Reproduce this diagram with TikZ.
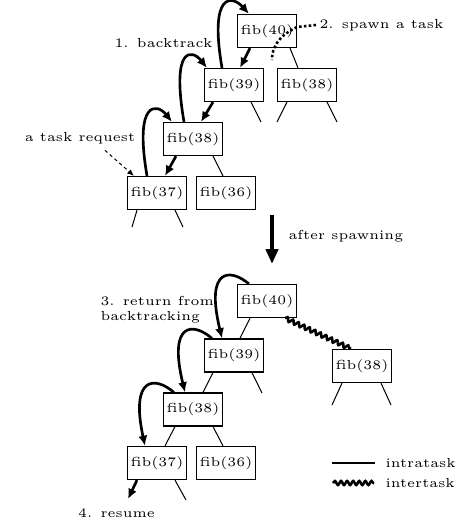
\documentclass[tikz,border=0pt]{standalone}
\usetikzlibrary{arrows.meta,calc,decorations.pathmorphing}
\newcommand{\fibfont}{\fontsize{5.15pt}{5.8pt}\selectfont}
\begin{document}
\begin{tikzpicture}[x=0.394pt,y=-0.394pt,
  fb/.style={draw,line width=0.5pt,minimum width=23.2pt,minimum height=13pt,inner sep=0pt,font=\fibfont},
  lbl/.style={font=\fibfont,inner sep=0pt},
  intra/.style={line width=0.4pt},
  bt/.style={line width=1.05pt,-{Latex[length=4pt,width=3.6pt]}},
  inter/.style={line width=1pt,decorate,decoration={snake,amplitude=0.8pt,segment length=2.4pt}},
  spawn/.style={line width=1pt,dash pattern=on 1pt off 0.9pt},
  req/.style={line width=0.4pt,dash pattern=on 1.3pt off 1.2pt,-{Latex[length=2.6pt,width=2.2pt]}},
  big/.style={line width=1.6pt,-{Triangle[length=5.9pt,width=4.8pt]}},
]
\useasboundingbox (0,0) rectangle (457,519);

% ---------- top tree ----------
\node[fb] (a40) at (267,31) {fib(40)};
\node[fb] (a39) at (234,85) {fib(39)};
\node[fb] (b38) at (307,85) {fib(38)};
\node[fb] (a38) at (193,139) {fib(38)};
\node[fb] (a37) at (157,193) {fib(37)};
\node[fb] (a36) at (226,193) {fib(36)};

\coordinate (s39r) at (261,122);
\coordinate (s38l) at (277,122);
\coordinate (s38r) at (337,122);
\coordinate (s37l) at (132,227);
\coordinate (s37r) at (183,227);

\draw[bt] ($(a40.south)+(-17,0)$) -- ($(a39.north)+(6,0)$);
\draw[intra] ($(a40.south)+(23,0)$) -- ($(b38.north)+(-9,0)$);
\draw[intra] ($(a39.south)+(17,0)$) -- (s39r);
\draw[bt] ($(a39.south)+(-21,0)$) -- ($(a38.north)+(8,0)$);
\draw[intra] ($(b38.south)+(-20,0)$) -- (s38l);
\draw[intra] ($(b38.south)+(20,0)$) -- (s38r);
\draw[bt] ($(a38.south)+(-17,0)$) -- ($(a37.north)+(8,0)$);
\draw[intra] ($(a38.south)+(20,0)$) -- ($(a36.north)+(-3,0)$);
\draw[intra] ($(a37.south)+(-20,0)$) -- (s37l);
\draw[intra] ($(a37.south)+(18,0)$) -- (s37r);

% backtrack curves
\draw[bt] ($(a39.north)+(-12,0)$) .. controls (209,-8) and (232,-5) .. ($(a40.north west)+(12,0)$);
\draw[bt] ($(a38.north)+(-9,0)$) .. controls (171,46) and (192,49) .. ($(a39.north west)+(3,0)$);
\draw[bt] ($(a37.north)+(-10,0)$) .. controls (134,100) and (157,103) .. ($(a38.north west)+(9,0)$);

% labels top
\node[lbl,anchor=east] (lbt) at (213,43) {1. backtrack};
\node[lbl,anchor=west] (lsp) at (319,25) {2. spawn a task};
\node[lbl] (lreq) at (80,138) {a task request};
\coordinate (sp1) at (272,60);
\draw[spawn] ($(lsp.west)+(-3,0)$) -- (297,27) .. controls (285,33) and (272,42) .. (sp1);
\draw[req] ($(lreq.south)+(25,6)$) -- ($(a37.north west)+(7,0)$);

% ---------- big arrow ----------
\coordinate (bigtop) at (272,215);
\coordinate (bigtip) at (272,264);
\draw[big] (bigtop) -- (bigtip);
\node[lbl,anchor=west] (laft) at (288,236) {after spawning};

% ---------- bottom tree ----------
\node[fb] (c40) at (267,301) {fib(40)};
\node[fb] (c39) at (234,355.5) {fib(39)};
\node[fb] (d38) at (362,366) {fib(38)};
\node[fb] (c38) at (193,409.5) {fib(38)};
\node[fb] (c37) at (157,463) {fib(37)};
\node[fb] (c36) at (226,463) {fib(36)};

\coordinate (t39r) at (262,393);
\coordinate (t38l) at (332,405);
\coordinate (t38r) at (391,405);
\coordinate (t37r) at (186,500);
\coordinate (res) at (128,499);

\draw[intra] ($(c40.south)+(-17,0)$) -- ($(c39.north)+(6,0)$);
\draw[inter] ($(c40.south)+(18,0)$) -- ($(d38.north)+(-11,0)$);
\draw[intra] ($(c39.south)+(-21,0)$) -- ($(c38.north)+(10,0)$);
\draw[intra] ($(c39.south)+(18,0)$) -- (t39r);
\draw[intra] ($(d38.south)+(-20,0)$) -- (t38l);
\draw[intra] ($(d38.south)+(19,0)$) -- (t38r);
\draw[intra] ($(c38.south)+(-18,0)$) -- ($(c37.north)+(8,0)$);
\draw[intra] ($(c38.south)+(20,0)$) -- ($(c36.north)+(-3,0)$);
\draw[bt] ($(c37.south)+(-20,0)$) -- (res);
\draw[intra] ($(c37.south)+(18,0)$) -- (t37r);

% return curves
\draw[bt] ($(c40.north west)+(12,0)$) .. controls (230,268) and (205,268) .. ($(c39.north)+(-12,0)$);
\draw[bt] ($(c39.north west)+(8,0)$) .. controls (193,322) and (168,322) .. ($(c38.north)+(-8,0)$);
\draw[bt] ($(c38.north west)+(11,0)$) .. controls (155,376) and (130,376) .. ($(c37.north)+(-12,0)$);

\node[lbl,anchor=west,align=left] (lret) at (100,310) {3. return from\\backtracking};
\node[lbl] (lres) at (116.5,513) {4. resume};

% ---------- legend ----------
\coordinate (li1) at (332,463);
\coordinate (li2) at (375,463);
\coordinate (lw1) at (333,483);
\coordinate (lw2) at (374,483);
\draw[intra] (li1) -- (li2);
\draw[inter] (lw1) -- (lw2);
\node[lbl,anchor=west] (lintra) at (385,463) {intratask};
\node[lbl,anchor=west] (linter) at (385,483) {intertask};
\end{tikzpicture}
\end{document}
